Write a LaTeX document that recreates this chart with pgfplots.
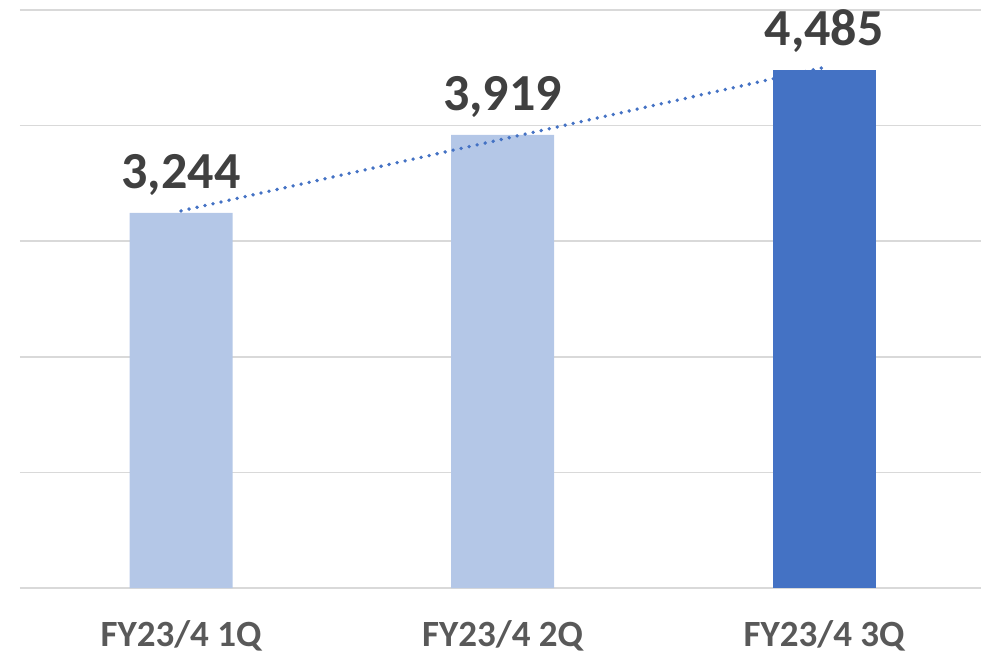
\documentclass[border=0pt]{standalone}
\usepackage{fontspec}
\setmainfont{Carlito}
\usepackage{pgfplots}
\pgfplotsset{compat=1.18}
\definecolor{lightbar}{HTML}{B4C7E7}
\definecolor{darkbar}{HTML}{4472C4}
\definecolor{gridc}{HTML}{D9D9D9}
\definecolor{labc}{HTML}{404040}
\definecolor{tickc}{HTML}{595959}
\begin{document}
\begin{tikzpicture}[x=1pt,y=1pt]
\useasboundingbox (0,0) rectangle (981,654);
\begin{axis}[
  at={(20pt,66pt)}, anchor=south west,
  scale only axis, width=961pt, height=578pt,
  xmin=-0.5008, xmax=2.488, ymin=0, ymax=5000,
  clip=false,
  axis line style={draw=none},
  major tick length=0pt,
  ytick={0,1000,2000,3000,4000,5000},
  yticklabels={},
  ymajorgrids,
  grid style={draw=gridc, line width=1.6pt},
  xtick={0,1,2},
  xticklabels={FY23/4 1Q, FY23/4 2Q, FY23/4 3Q},
  xticklabel style={font=\fontsize{37}{40}\selectfont\bfseries, text=tickc, anchor=center, yshift=-48pt},
  /pgf/number format/.cd, 1000 sep={,}, assume math mode=true,
]
\addplot[ybar, bar width=103pt, bar shift=0pt, fill=lightbar, draw=none,
  point meta=y, nodes near coords,
  nodes near coords style={font=\fontsize{52}{54}\selectfont\bfseries, text=labc, anchor=base, yshift=24pt}]
  coordinates {(0,3244) (1,3919)};
\addplot[sharp plot, no marks, draw=darkbar, line width=3.8pt, line cap=round, dash pattern=on 0pt off 8.2pt]
  coordinates {(0,3262.2) (2,4503.2)};
\addplot[ybar, bar width=103pt, bar shift=0pt, fill=darkbar, draw=none,
  point meta=y, nodes near coords,
  nodes near coords style={font=\fontsize{52}{54}\selectfont\bfseries, text=labc, anchor=base, yshift=24pt}]
  coordinates {(2,4485)};
\end{axis}
\end{tikzpicture}
\end{document}
